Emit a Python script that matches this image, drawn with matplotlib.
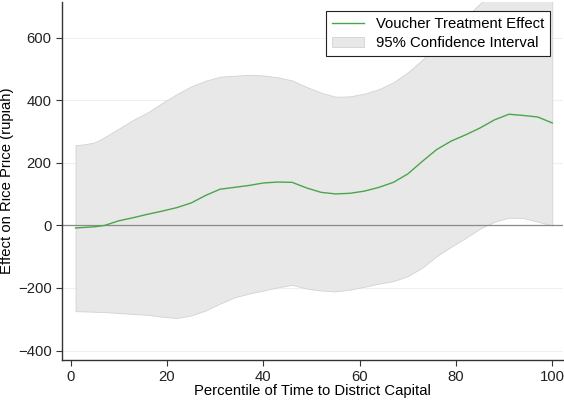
import numpy as np
import matplotlib
matplotlib.use("Agg")
import matplotlib.pyplot as plt

plt.rcParams['font.family'] = ['Liberation Sans', 'DejaVu Sans']

# percentile grid
pct = [1, 3, 5, 7, 10, 13, 16, 19, 22, 25, 28, 31, 34, 37, 40, 43, 46, 49, 52,
       55, 58, 61, 64, 67, 70, 73, 76, 79, 82, 85, 88, 91, 94, 97, 100]

effect = [-8, -6, -4, 0, 15, 25, 36, 46, 57, 72, 96, 116, 122, 128, 136, 139, 138,
          120, 106, 101, 103, 110, 122, 138, 165, 205, 243, 270, 290, 312, 338,
          356, 352, 347, 328]

upper = [257, 260, 266, 282, 310, 338, 362, 392, 420, 445, 463, 476, 479, 482, 480,
         474, 464, 443, 425, 412, 413, 422, 436, 458, 490, 530, 575, 618, 665, 710,
         750, 780, 795, 800, 795]

lower = [-274, -275, -276, -277, -280, -283, -286, -292, -296, -288, -272, -250, -230,
         -218, -208, -198, -190, -202, -208, -211, -205, -196, -186, -178, -162, -135,
         -98, -68, -40, -10, 12, 25, 24, 12, 0]

yticks = [-400, -200, 0, 200, 400, 600]
xticks = [0, 20, 40, 60, 80, 100]

fs = 10.7

fig = plt.figure(figsize=(5.64, 4.03), dpi=100)
ax = fig.add_axes([0.110, 0.107, 0.888, 0.888])

for yv in yticks:
    ax.axhline(yv, color='#f0f0f0', lw=0.8, zorder=0)

ax.fill_between(pct, lower, upper, facecolor='#e8e8e8', edgecolor='#d2d2d2',
                lw=0.6, zorder=1, label='95% Confidence Interval')
ax.axhline(0, color='#8a8a8a', lw=0.9, zorder=2)
ax.plot(pct, effect, color='#4aa64a', lw=1.0, zorder=3, label='Voucher Treatment Effect')

ax.set_xlim(-1.8, 102.2)
ax.set_ylim(-430, 715)
ax.set_xticks(xticks)
ax.set_yticks(yticks)
ax.tick_params(labelsize=fs, length=4, width=0.8, color='#333333', labelcolor='#222222')

for s in ['top', 'right']:
    ax.spines[s].set_visible(False)
for s in ['left', 'bottom']:
    ax.spines[s].set_linewidth(1.0)
    ax.spines[s].set_color('#333333')

ax.set_xlabel('Percentile of Time to District Capital', fontsize=fs, labelpad=0)
ax.set_ylabel('Effect on Rice Price (rupiah)', fontsize=fs, labelpad=3)

handles, labels = ax.get_legend_handles_labels()
leg = ax.legend(handles[::-1], labels[::-1], loc='upper right', fontsize=fs,
                fancybox=False, framealpha=1, edgecolor='#222222',
                bbox_to_anchor=(0.99, 0.995), borderpad=0.4, handlelength=2.2,
                labelspacing=0.35)
leg.get_frame().set_linewidth(0.8)

fig.savefig('out.png', dpi=100)
